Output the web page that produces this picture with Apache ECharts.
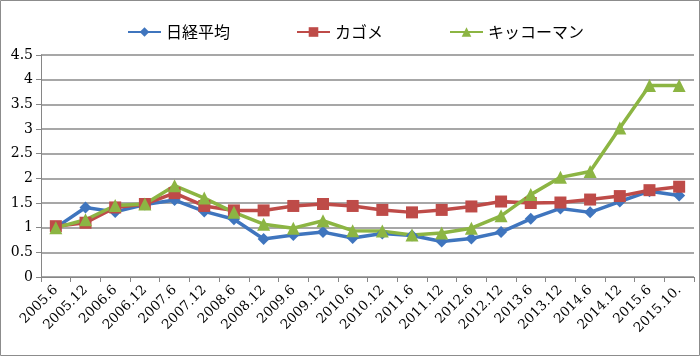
<!DOCTYPE html>
<html><head><meta charset="utf-8">
<script src="https://cdn.jsdelivr.net/npm/echarts@6/dist/echarts.min.js"></script>
<style>html,body{margin:0;padding:0;background:#fff}#c{width:700px;height:356px}</style>
</head><body><div id="c"></div>
<script>
const categories = ['2005.6','2005.12','2006.6','2006.12','2007.6','2007.12','2008.6','2008.12','2009.6','2009.12','2010.6','2010.12','2011.6','2011.12','2012.6','2012.12','2013.6','2013.12','2014.6','2014.12','2015.6','2015.10.'];
const nikkei = [1.0,1.41,1.32,1.47,1.56,1.33,1.17,0.77,0.85,0.91,0.79,0.88,0.84,0.72,0.78,0.91,1.18,1.39,1.31,1.53,1.74,1.65];
const kagome = [1.03,1.1,1.41,1.48,1.7,1.44,1.35,1.35,1.44,1.48,1.44,1.36,1.31,1.36,1.43,1.53,1.5,1.51,1.57,1.64,1.76,1.83];
const kikkoman = [1.0,1.16,1.45,1.48,1.85,1.6,1.31,1.07,0.99,1.14,0.94,0.93,0.85,0.89,0.99,1.24,1.67,2.02,2.14,3.02,3.88,3.88];
const names = ['日経平均','カゴメ','キッコーマン'];

const chart = echarts.init(document.getElementById('c'), null, {renderer:'canvas'});
const serif = 'DejaVu Serif';
function s(name, data, color, symbol, size){
  return {name, type:'line', data, symbol, symbolSize:size, color,
    lineStyle:{width:3.5, color}, itemStyle:{color}, animation:false};
}
chart.setOption({
  animation:false,
  graphic:[{type:'rect', shape:{x:0.5,y:0.5,width:699,height:355}, style:{fill:null, stroke:'#8c8c8c', lineWidth:1}, silent:true}],
  legend:{left:122, top:19, itemGap:66, itemWidth:33, itemHeight:12,
    textStyle:{fontFamily:'Noto Sans CJK JP', fontSize:16, color:'#000'}, data:names},
  grid:{left:41, right:6, top:55, bottom:79, containLabel:false},
  xAxis:{type:'category', data:categories, boundaryGap:true,
    axisLine:{lineStyle:{color:'#868686', width:1}},
    axisTick:{show:true, length:5, alignWithLabel:false, lineStyle:{color:'#868686'}},
    axisLabel:{rotate:45, interval:0, margin:11, fontFamily:serif, fontSize:13.5, color:'#000'}},
  yAxis:{type:'value', min:0, max:4.5, interval:0.5,
    axisLine:{show:true, lineStyle:{color:'#868686', width:1}},
    axisTick:{show:true, length:5, lineStyle:{color:'#868686'}},
    axisLabel:{margin:8, fontFamily:serif, fontSize:14, color:'#000'},
    splitLine:{lineStyle:{color:'#8a8a8a', width:1.5}}},
  series:[
    s(names[0], nikkei, '#3F75BE', 'diamond', 12),
    s(names[1], kagome, '#BE4B48', 'rect', 12),
    s(names[2], kikkoman, '#8CB543', 'triangle', 13)
  ]
});
</script></body></html>
